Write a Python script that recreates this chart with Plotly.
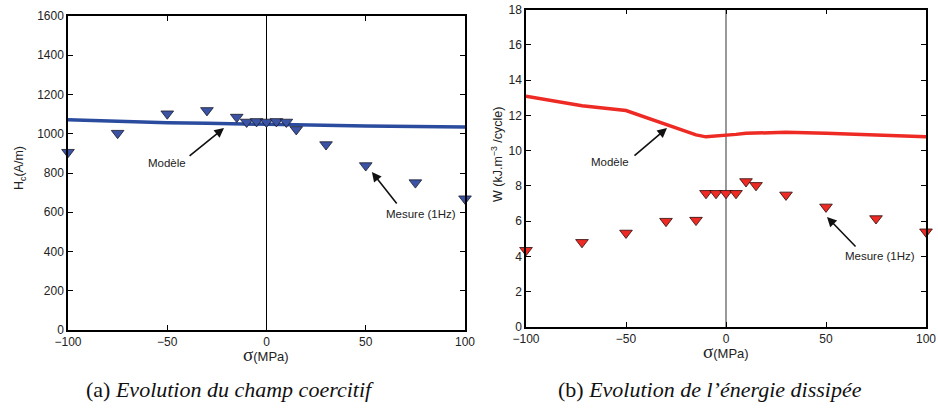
import plotly.graph_objects as go

# ---- data (a) coercive field ----
sigma_a = [-100, -75, -50, -30, -15, -10, -5, 0, 5, 10, 15, 30, 50, 75, 100]
hc_mesure = [906, 1003, 1102, 1119, 1085, 1060, 1063, 1060, 1063, 1060, 1022, 945, 838, 751, 669]
hc_modele = [1071, 1062, 1056, 1053, 1050, 1049, 1048, 1047, 1046, 1045, 1045, 1043, 1040, 1037, 1034]

# ---- data (b) dissipated energy ----
sigma_b = [-100, -72, -50, -30, -15, -10, -5, 0, 5, 10, 15, 30, 50, 75, 100]
w_mesure = [4.35, 4.8, 5.33, 6.0, 6.06, 7.58, 7.58, 7.58, 7.58, 8.25, 8.03, 7.49, 6.81, 6.15, 5.4]
w_modele = [13.09, 12.54, 12.27, 11.48, 10.89, 10.78, 10.82, 10.85, 10.92, 10.98, 11.0, 11.04, 10.98, 10.88, 10.78]

xticks = [-100, -50, 0, 50, 100]
yticks_a = list(range(0, 1601, 200))
yticks_b = list(range(0, 19, 2))

BLUE = "#3a53a4"
RED = "#ee2a24"
FONT = "Liberation Sans, Arial, sans-serif"

fig = go.Figure()

fig.add_trace(go.Scatter(x=sigma_a, y=hc_modele, mode="lines",
                         line=dict(color="#2b4c9e", width=3.5), xaxis="x", yaxis="y", showlegend=False))
fig.add_trace(go.Scatter(x=sigma_a, y=hc_mesure, mode="markers",
                         marker=dict(symbol="triangle-down", size=11, color=BLUE,
                                     line=dict(color="#1a1a2a", width=0.8)),
                         xaxis="x", yaxis="y", showlegend=False, cliponaxis=False))
fig.add_trace(go.Scatter(x=sigma_b, y=w_modele, mode="lines",
                         line=dict(color=RED, width=3.5), xaxis="x2", yaxis="y2", showlegend=False))
fig.add_trace(go.Scatter(x=sigma_b, y=w_mesure, mode="markers",
                         marker=dict(symbol="triangle-down", size=11, color=RED,
                                     line=dict(color="#2a0a0a", width=0.8)),
                         xaxis="x2", yaxis="y2", showlegend=False, cliponaxis=False))

axis_common = dict(showline=True, linecolor="black", linewidth=1.5, mirror="ticks",
                   ticks="inside", ticklen=5, tickcolor="black", showgrid=False, zeroline=False,
                   automargin=False,
                   tickfont=dict(family=FONT, size=12, color="#222"))

fig.update_layout(
    width=938, height=414,
    margin=dict(l=0, r=0, t=0, b=0, autoexpand=False),
    paper_bgcolor="white", plot_bgcolor="white",
    xaxis=dict(domain=[68/938, 465/938], range=[-100, 100], tickvals=xticks, anchor="y", **axis_common),
    yaxis=dict(domain=[1-330/414, 1-16/414], range=[0, 1600], tickvals=yticks_a, anchor="x", **axis_common),
    xaxis2=dict(domain=[526/938, 926/938], range=[-100, 100], tickvals=xticks, anchor="y2", **axis_common),
    yaxis2=dict(domain=[1-327/414, 1-9.5/414], range=[0, 18], tickvals=yticks_b, anchor="x2", **axis_common),
)

# vertical zero lines
fig.add_shape(type="line", xref="x", yref="y", x0=0, x1=0, y0=0, y1=1600,
              line=dict(color="black", width=1), layer="below")
fig.add_shape(type="line", xref="x2", yref="y2", x0=0, x1=0, y0=0, y1=18,
              line=dict(color="#777", width=1.5), layer="below")

def arrow(xr, yr, hx, hy, tx, ty):
    fig.add_annotation(x=hx, y=hy, ax=tx, ay=ty, xref=xr, yref=yr, axref=xr, ayref=yr,
                       text="", showarrow=True, arrowhead=2, arrowsize=1.2, arrowwidth=1.6,
                       arrowcolor="#111")

def label(xr, yr, x, y, t):
    fig.add_annotation(x=x, y=y, xref=xr, yref=yr, text=t, showarrow=False,
                       xanchor="center", yanchor="middle",
                       font=dict(family=FONT, size=11.5, color="#222"))

arrow("x", "y", -21.4, 1029, -39.5, 881)
label("x", "y", -50, 851, "Modèle")
arrow("x", "y", 53.1, 805, 66.2, 637)
label("x", "y", 77.8, 591, "Mesure (1Hz)")

arrow("x2", "y2", -29.5, 11.28, -46.5, 9.64)
label("x2", "y2", -58, 9.35, "Modèle")
arrow("x2", "y2", 50.5, 6.24, 65.5, 4.48)
label("x2", "y2", 77, 4.03, "Mesure (1Hz)")

def ptext(px, py, t, size, family=FONT, angle=0, color="#222"):
    fig.add_annotation(x=px/938, y=1-py/414, xref="paper", yref="paper", text=t,
                       showarrow=False, xanchor="center", yanchor="middle", textangle=angle,
                       font=dict(family=family, size=size, color=color))

# axis titles
sig = "<span style='font-family:Liberation Serif; font-size:19px'>σ</span>(MPa)"
ptext(266, 354, sig, 13)
ptext(726, 351, sig, 13)
ptext(20, 168, "H<sub>c</sub>(A/m)", 12.5, angle=-90)
ptext(497, 155, "W (kJ.m<sup>−3</sup> /cycle)", 12.5, angle=-90)

# captions
SERIF = "Liberation Serif, Times New Roman, serif"
ptext(230, 389, "(a) <i>Evolution du champ coercitif</i>", 22, family=SERIF, color="#111")
ptext(710, 389, "(b) <i>Evolution de l’énergie dissipée</i>", 22, family=SERIF, color="#111")

fig.write_html("out.html", config={"displayModeBar": False},
               post_script="document.body.style.margin='0';")
